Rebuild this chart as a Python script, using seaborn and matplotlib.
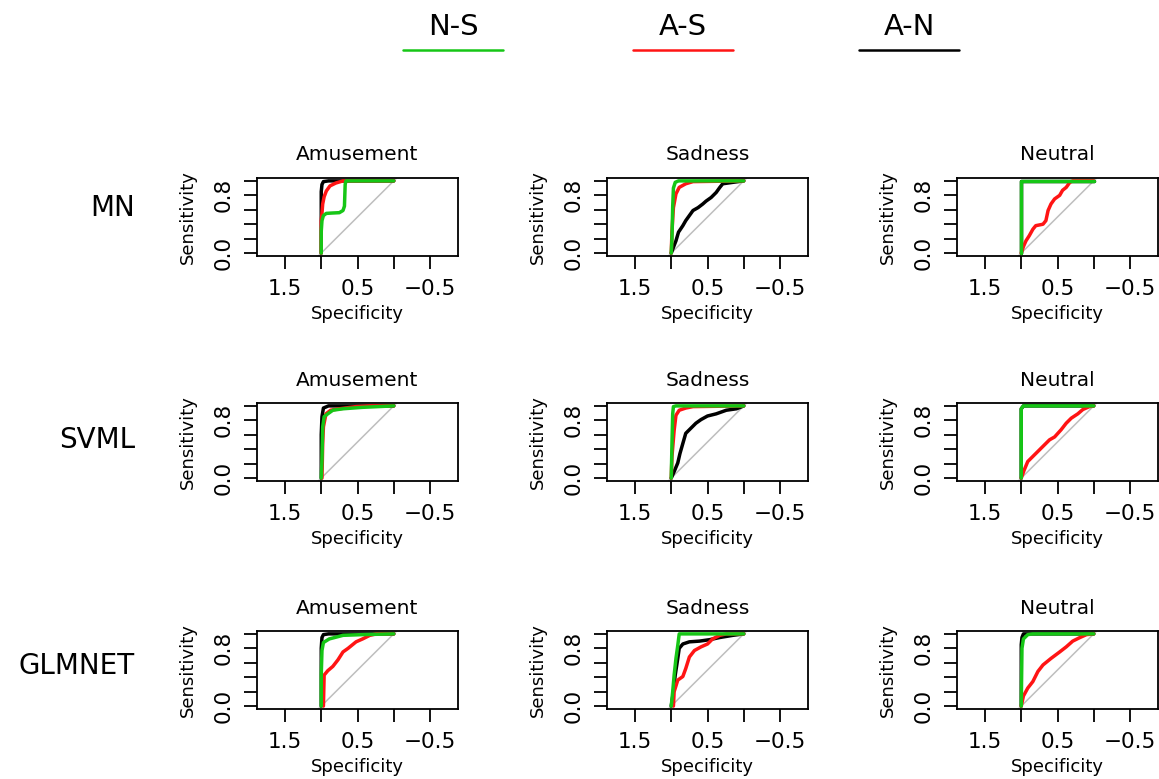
import matplotlib
matplotlib.use("Agg")
import matplotlib.pyplot as plt
from matplotlib.lines import Line2D
import numpy as np
import pandas as pd
import seaborn as sns

sns.set_style("white")
plt.rcParams['font.family'] = ['DejaVu Sans']
plt.rcParams.update({
    "text.color": "black", "axes.labelcolor": "black",
    "xtick.color": "black", "ytick.color": "black",
    "xtick.bottom": True, "ytick.left": True,
})

# ---------------- categories ----------------
METHODS = ["MN", "SVML", "GLMNET"]
EMOTIONS = ["Amusement", "Sadness", "Neutral"]
DRAW_ORDER = ["A-N", "A-S", "N-S"]
LEGEND_ORDER = ["N-S", "A-S", "A-N"]
COLORS = {"N-S": "#16c616", "A-S": "#ff1414", "A-N": "#000000"}

X_TICKS = [1.5, 1.0, 0.5, 0.0, -0.5]
X_TICK_LABELS = ["1.5", "", "0.5", "", "\u22120.5"]
Y_TICKS = [0.0, 0.2, 0.4, 0.6, 0.8, 1.0]
Y_TICK_LABELS = ["0.0", "", "", "", "0.8", ""]

# ---------------- ROC curves (specificity, sensitivity) ----------------
# MN
MN_AMU_AN_SPEC = [1, 1, 0.99, 0.97, 0.9, 0]
MN_AMU_AN_SENS = [0, 0.85, 0.95, 0.99, 1, 1]
MN_AMU_AS_SPEC = [1, 1, 0.99, 0.98, 0.96, 0.93, 0.88, 0.8, 0.7, 0]
MN_AMU_AS_SENS = [0, 0.45, 0.55, 0.68, 0.78, 0.86, 0.93, 0.97, 1.0, 1.0]
MN_AMU_NS_SPEC = [1, 1, 0.99, 0.97, 0.93, 0.85, 0.75, 0.7, 0.68, 0.675, 0.67, 0.66, 0]
MN_AMU_NS_SENS = [0, 0.3, 0.45, 0.52, 0.55, 0.555, 0.56, 0.59, 0.65, 0.8, 0.95, 1.0, 1.0]

MN_SAD_AN_SPEC = [1, 0.97, 0.935, 0.9, 0.84, 0.8, 0.75, 0.7, 0.63, 0.565, 0.52, 0.45, 0.38, 0.33, 0.29, 0.15, 0]
MN_SAD_AN_SENS = [0, 0.08, 0.17, 0.29, 0.38, 0.45, 0.52, 0.59, 0.63, 0.68, 0.72, 0.77, 0.84, 0.91, 0.96, 0.98, 1.0]
MN_SAD_AS_SPEC = [1, 0.99, 0.97, 0.935, 0.89, 0.8, 0.7, 0]
MN_SAD_AS_SENS = [0, 0.3, 0.63, 0.82, 0.91, 0.96, 0.99, 1.0]
MN_SAD_NS_SPEC = [1, 0.99, 0.98, 0.97, 0.945, 0.9, 0]
MN_SAD_NS_SENS = [0, 0.2, 0.65, 0.9, 0.98, 1.0, 1.0]

MN_NEU_AN_SPEC = [1, 1, 0]
MN_NEU_AN_SENS = [0, 1, 1]
MN_NEU_AS_SPEC = [1, 0.97, 0.935, 0.89, 0.84, 0.8, 0.7, 0.66, 0.63, 0.59, 0.54, 0.47, 0.43, 0.38, 0.33, 0.29, 0]
MN_NEU_AS_SENS = [0, 0.09, 0.17, 0.24, 0.33, 0.38, 0.40, 0.45, 0.59, 0.68, 0.75, 0.80, 0.87, 0.91, 0.98, 1.0, 1.0]
MN_NEU_NS_SPEC = [1, 1, 0]
MN_NEU_NS_SENS = [0, 1, 1]

# SVML
SVML_AMU_AN_SPEC = [1, 1, 0.99, 0.97, 0.9, 0]
SVML_AMU_AN_SENS = [0, 0.6, 0.85, 0.97, 1, 1]
SVML_AMU_AS_SPEC = [0.99, 0.98, 0.97, 0.935, 0.87, 0.75, 0.52, 0.33, 0]
SVML_AMU_AS_SENS = [0, 0.48, 0.71, 0.89, 0.94, 0.96, 0.99, 1.0, 1.0]
SVML_AMU_NS_SPEC = [1, 0.99, 0.98, 0.96, 0.91, 0.84, 0.70, 0.43, 0]
SVML_AMU_NS_SENS = [0, 0.25, 0.71, 0.85, 0.89, 0.94, 0.96, 0.98, 1.0]

SVML_SAD_AN_SPEC = [1, 0.96, 0.91, 0.88, 0.84, 0.80, 0.73, 0.66, 0.59, 0.50, 0.38, 0.24, 0.10, 0]
SVML_SAD_AN_SENS = [0, 0.09, 0.21, 0.34, 0.48, 0.62, 0.69, 0.76, 0.81, 0.86, 0.89, 0.94, 0.96, 1.0]
SVML_SAD_AS_SPEC = [1, 0.99, 0.96, 0.935, 0.89, 0.80, 0.70, 0]
SVML_SAD_AS_SENS = [0, 0.3, 0.66, 0.87, 0.94, 0.97, 0.99, 1.0]
SVML_SAD_NS_SPEC = [1, 0.99, 0.98, 0.97, 0.935, 0]
SVML_SAD_NS_SENS = [0, 0.48, 0.89, 0.99, 1.0, 1.0]

SVML_NEU_AN_SPEC = [1, 1, 0.97, 0]
SVML_NEU_AN_SENS = [0, 0.96, 1, 1]
SVML_NEU_AS_SPEC = [1, 0.96, 0.91, 0.84, 0.77, 0.70, 0.61, 0.54, 0.45, 0.38, 0.31, 0.22, 0.15, 0.06, 0]
SVML_NEU_AS_SENS = [0, 0.11, 0.23, 0.30, 0.37, 0.44, 0.53, 0.57, 0.67, 0.76, 0.83, 0.89, 0.95, 0.99, 1.0]
SVML_NEU_NS_SPEC = [1, 1, 0.97, 0]
SVML_NEU_NS_SENS = [0, 0.96, 1, 1]

# GLMNET
GLM_AMU_AN_SPEC = [1, 1, 0.99, 0.97, 0.9, 0]
GLM_AMU_AN_SENS = [0, 0.8, 0.95, 0.99, 1, 1]
GLM_AMU_AS_SPEC = [0.97, 0.96, 0.91, 0.84, 0.77, 0.70, 0.63, 0.52, 0.43, 0.33, 0.24, 0]
GLM_AMU_AS_SENS = [0, 0.43, 0.49, 0.55, 0.64, 0.75, 0.80, 0.89, 0.93, 0.98, 1.0, 1.0]
GLM_AMU_NS_SPEC = [1, 1, 0.99, 0.97, 0.89, 0.70, 0.43, 0]
GLM_AMU_NS_SENS = [0, 0.43, 0.77, 0.88, 0.93, 0.98, 0.99, 1.0]

GLM_SAD_AN_SPEC = [1, 0.97, 0.945, 0.91, 0.89, 0.84, 0.75, 0.61, 0.47, 0.33, 0.15, 0]
GLM_SAD_AN_SENS = [0, 0.2, 0.43, 0.66, 0.80, 0.86, 0.89, 0.90, 0.92, 0.95, 0.98, 1.0]
GLM_SAD_AS_SPEC = [0.97, 0.96, 0.91, 0.84, 0.80, 0.75, 0.68, 0.59, 0.50, 0.43, 0.33, 0.24, 0]
GLM_SAD_AS_SENS = [0, 0.2, 0.36, 0.41, 0.52, 0.68, 0.77, 0.82, 0.86, 0.93, 0.98, 1.0, 1.0]
GLM_SAD_NS_SPEC = [1, 0.98, 0.96, 0.935, 0.91, 0.89, 0]
GLM_SAD_NS_SENS = [0, 0.2, 0.43, 0.66, 0.84, 1.0, 1.0]

GLM_NEU_AN_SPEC = [1, 1, 0.99, 0.97, 0]
GLM_NEU_AN_SENS = [0, 0.85, 0.95, 1, 1]
GLM_NEU_AS_SPEC = [1, 0.97, 0.91, 0.84, 0.77, 0.70, 0.59, 0.47, 0.38, 0.29, 0.19, 0.10, 0]
GLM_NEU_AS_SENS = [0, 0.14, 0.25, 0.34, 0.48, 0.57, 0.66, 0.75, 0.82, 0.90, 0.95, 0.99, 1.0]
GLM_NEU_NS_SPEC = [1, 0.99, 0.97, 0.91, 0.84, 0]
GLM_NEU_NS_SENS = [0, 0.8, 0.93, 0.99, 1.0, 1.0]

CURVES = {
    ("MN", "Amusement"): {"A-N": (MN_AMU_AN_SPEC, MN_AMU_AN_SENS), "A-S": (MN_AMU_AS_SPEC, MN_AMU_AS_SENS), "N-S": (MN_AMU_NS_SPEC, MN_AMU_NS_SENS)},
    ("MN", "Sadness"): {"A-N": (MN_SAD_AN_SPEC, MN_SAD_AN_SENS), "A-S": (MN_SAD_AS_SPEC, MN_SAD_AS_SENS), "N-S": (MN_SAD_NS_SPEC, MN_SAD_NS_SENS)},
    ("MN", "Neutral"): {"A-N": (MN_NEU_AN_SPEC, MN_NEU_AN_SENS), "A-S": (MN_NEU_AS_SPEC, MN_NEU_AS_SENS), "N-S": (MN_NEU_NS_SPEC, MN_NEU_NS_SENS)},
    ("SVML", "Amusement"): {"A-N": (SVML_AMU_AN_SPEC, SVML_AMU_AN_SENS), "A-S": (SVML_AMU_AS_SPEC, SVML_AMU_AS_SENS), "N-S": (SVML_AMU_NS_SPEC, SVML_AMU_NS_SENS)},
    ("SVML", "Sadness"): {"A-N": (SVML_SAD_AN_SPEC, SVML_SAD_AN_SENS), "A-S": (SVML_SAD_AS_SPEC, SVML_SAD_AS_SENS), "N-S": (SVML_SAD_NS_SPEC, SVML_SAD_NS_SENS)},
    ("SVML", "Neutral"): {"A-N": (SVML_NEU_AN_SPEC, SVML_NEU_AN_SENS), "A-S": (SVML_NEU_AS_SPEC, SVML_NEU_AS_SENS), "N-S": (SVML_NEU_NS_SPEC, SVML_NEU_NS_SENS)},
    ("GLMNET", "Amusement"): {"A-N": (GLM_AMU_AN_SPEC, GLM_AMU_AN_SENS), "A-S": (GLM_AMU_AS_SPEC, GLM_AMU_AS_SENS), "N-S": (GLM_AMU_NS_SPEC, GLM_AMU_NS_SENS)},
    ("GLMNET", "Sadness"): {"A-N": (GLM_SAD_AN_SPEC, GLM_SAD_AN_SENS), "A-S": (GLM_SAD_AS_SPEC, GLM_SAD_AS_SENS), "N-S": (GLM_SAD_NS_SPEC, GLM_SAD_NS_SENS)},
    ("GLMNET", "Neutral"): {"A-N": (GLM_NEU_AN_SPEC, GLM_NEU_AN_SENS), "A-S": (GLM_NEU_AS_SPEC, GLM_NEU_AS_SENS), "N-S": (GLM_NEU_NS_SPEC, GLM_NEU_NS_SENS)},
}

# ---------------- layout ----------------
W, H = 1159, 779
fig = plt.figure(figsize=(W / 100, H / 100), dpi=100)
fig.patch.set_facecolor("white")

COL_LEFT = [257, 607, 957]
ROW_TOP = [178, 403, 631]
BOX_W, BOX_H = 201, 78


def add_box(left, top):
    return fig.add_axes([left / W, 1 - (top + BOX_H) / H, BOX_W / W, BOX_H / H])


for r, method in enumerate(METHODS):
    for c, emo in enumerate(EMOTIONS):
        ax = add_box(COL_LEFT[c], ROW_TOP[r])
        ax.set_facecolor("white")
        ax.axline((1, 0), (0, 1), color="#bebebe", lw=1.1, zorder=1)
        for comp in DRAW_ORDER:
            spec, sens = CURVES[(method, emo)][comp]
            df = pd.DataFrame({"Specificity": spec, "Sensitivity": sens})
            sns.lineplot(data=df, x="Specificity", y="Sensitivity", sort=False,
                         estimator=None, color=COLORS[comp], lw=2.5, ax=ax,
                         legend=False, zorder=3)
        ax.set_xlim(1.886, -0.886)
        ax.set_ylim(-0.04, 1.04)
        ax.set_xticks(X_TICKS)
        ax.set_xticklabels(X_TICK_LABELS, fontsize=15.5)
        ax.set_yticks(Y_TICKS)
        ax.set_yticklabels(Y_TICK_LABELS, fontsize=15.5, rotation=90, va="center")
        ax.tick_params(axis="both", which="major", direction="out", length=9.4,
                       width=1.3, color="black", labelcolor="black", pad=7.5,
                       bottom=True, left=True, top=False, right=False)
        for sp in ax.spines.values():
            sp.set_visible(True)
            sp.set_color("black")
            sp.set_linewidth(1.3)
        ax.set_xlabel("Specificity", fontsize=13, color="black")
        ax.set_ylabel("Sensitivity", fontsize=13, color="black")
        ax.xaxis.set_label_coords(0.5, -58 / BOX_H)
        ax.xaxis.label.set_va("center")
        ax.yaxis.set_label_coords(-69 / BOX_W, 0.5)
        ax.yaxis.label.set_va("center")
        ax.text(0.5, 1 + 23 / BOX_H, emo, transform=ax.transAxes,
                ha="center", va="center", fontsize=14.5, color="black")
        ax.grid(False)

# row labels
ROW_LABEL_Y = [208, 440, 666]
for method, y in zip(METHODS, ROW_LABEL_Y):
    fig.text(135 / W, 1 - y / H, method, ha="right", va="center", fontsize=20, color="black")

# top legend
LEGEND_X = [453, 683, 909]
for comp, x in zip(LEGEND_ORDER, LEGEND_X):
    fig.text(x / W, 1 - 27 / H, comp, ha="center", va="center", fontsize=21, color="black")
    fig.add_artist(Line2D([(x - 50) / W, (x + 50) / W], [1 - 50 / H, 1 - 50 / H],
                          color=COLORS[comp], lw=1.8))

fig.savefig("out.png", dpi=100, facecolor="white")
